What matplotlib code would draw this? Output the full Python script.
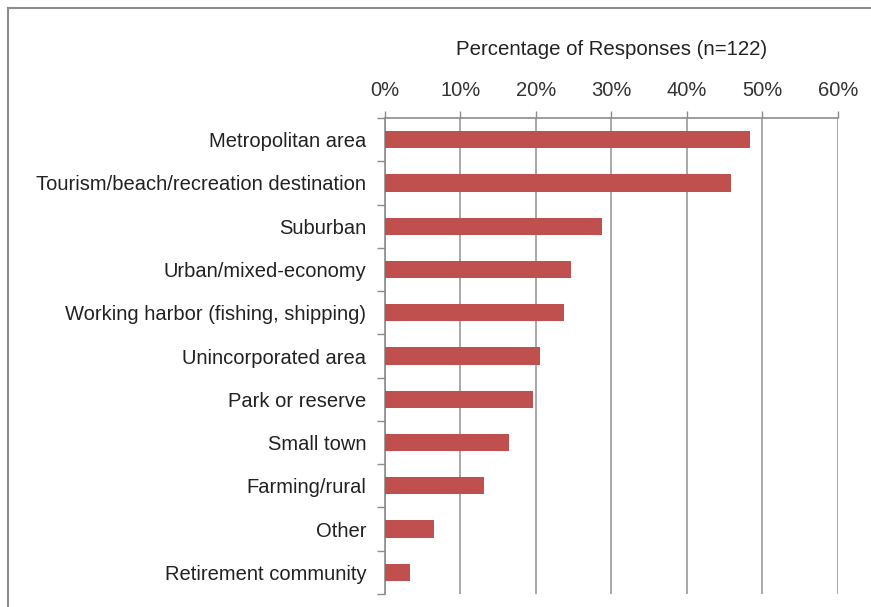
import matplotlib.pyplot as plt
import numpy as np

# Survey responses by community type (n=122)
categories = ['Metropolitan area', 'Tourism/beach/recreation destination', 'Suburban',
              'Urban/mixed-economy', 'Working harbor (fishing, shipping)', 'Unincorporated area',
              'Park or reserve', 'Small town', 'Farming/rural', 'Other', 'Retirement community']
counts = [59, 56, 35, 30, 29, 25, 24, 20, 16, 8, 4]
n_total = 122
pct = [100.0 * c / n_total for c in counts]
xticks = [0, 10, 20, 30, 40, 50, 60]

plt.rcParams['font.family'] = ['Liberation Sans', 'DejaVu Sans']

fig = plt.figure(figsize=(8.71, 6.07), dpi=100)
ax = fig.add_axes([0.442, 0.0214, 0.520, 0.7842])

y = np.arange(len(categories))
ax.barh(y, pct, height=0.4, color='#C0504D', zorder=3)
ax.set_ylim(len(categories) - 0.5, -0.5)
ax.set_xlim(0, 60)

# x axis on top with percent labels
ax.xaxis.tick_top()
ax.set_xticks(xticks)
ax.set_xticklabels([f'{t}%' for t in xticks])
ax.xaxis.set_label_position('top')
ax.set_xlabel('Percentage of Responses (n=122)', fontsize=14.7, color='#222222', labelpad=19)
ax.tick_params(axis='x', which='major', direction='out', length=5, width=1,
               color='#8c8c8c', labelsize=14.5, labelcolor='#333333', pad=8)
ax.grid(axis='x', color='#9a9a9a', lw=1.2, zorder=0)

# y ticks at category boundaries, labels at centers
ax.set_yticks(np.arange(len(categories) + 1) - 0.5)
ax.set_yticklabels([])
ax.set_yticks(y, minor=True)
ax.set_yticklabels(categories, minor=True)
ax.tick_params(axis='y', which='major', direction='out', length=6, width=1, color='#8c8c8c')
ax.tick_params(axis='y', which='minor', length=0, labelsize=14.5, labelcolor='#222222', pad=13.5)

for side in ['right', 'bottom']:
    ax.spines[side].set_visible(False)
for side in ['left', 'top']:
    ax.spines[side].set_color('#8c8c8c')
    ax.spines[side].set_linewidth(1.2)

# outer frame of the figure
fig.add_artist(plt.Line2D([8 / 871, 8 / 871], [0, 1 - 8 / 607], transform=fig.transFigure,
                          color='#8c8c8c', lw=1.5))
fig.add_artist(plt.Line2D([8 / 871, 1], [1 - 8 / 607, 1 - 8 / 607], transform=fig.transFigure,
                          color='#8c8c8c', lw=1.5))

fig.savefig('out.png', dpi=100)
